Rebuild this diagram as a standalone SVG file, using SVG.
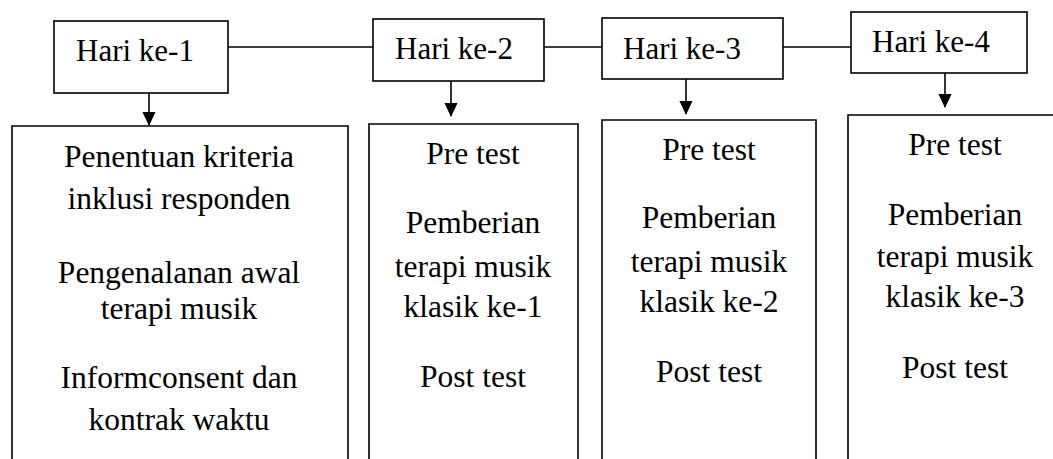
<svg xmlns="http://www.w3.org/2000/svg" width="1053" height="459" viewBox="0 0 1053 459">
<style>
.box{fill:#fff;stroke:#000;stroke-width:1.6}
.ln{stroke:#000;stroke-width:1.6;fill:none}
.h{font-family:"Liberation Serif","Times New Roman",serif;font-size:31px;fill:#000}
.b{font-family:"Liberation Serif","Times New Roman",serif;font-size:31.5px;fill:#000;text-anchor:middle}
</style>
<defs>
<marker id="ah" viewBox="0 0 14 15" refX="14" refY="7" markerWidth="15" markerHeight="14" markerUnits="userSpaceOnUse" orient="auto">
<path d="M0,0 L15,7 L0,14 Z" fill="#000"/>
</marker>
</defs>
<g id="connectors">
<line class="ln" x1="228" y1="47" x2="373" y2="47"/>
<line class="ln" x1="544" y1="47" x2="602" y2="47"/>
<line class="ln" x1="783" y1="47" x2="851" y2="47"/>
<line class="ln" x1="149" y1="93" x2="149" y2="125" marker-end="url(#ah)"/>
<line class="ln" x1="451" y1="81" x2="451" y2="116" marker-end="url(#ah)"/>
<line class="ln" x1="686" y1="79" x2="686" y2="114" marker-end="url(#ah)"/>
<line class="ln" x1="945" y1="73" x2="945" y2="107" marker-end="url(#ah)"/>
</g>
<g id="h1"><rect class="box" x="54" y="21" width="174" height="72"/><text class="h" x="76" y="61">Hari ke-1</text></g>
<g id="h2"><rect class="box" x="373" y="19" width="171" height="62"/><text class="h" x="395" y="59">Hari ke-2</text></g>
<g id="h3"><rect class="box" x="602" y="18" width="181" height="61"/><text class="h" x="623" y="59">Hari ke-3</text></g>
<g id="h4"><rect class="box" x="851" y="12" width="176" height="61"/><text class="h" x="872" y="52">Hari ke-4</text></g>
<g id="b1"><path class="ln" d="M12,470 V126 H348 V470"/>
<text class="b" x="179" y="167">Penentuan kriteria</text>
<text class="b" x="179" y="209">inklusi responden</text>
<text class="b" x="179" y="283">Pengenalanan awal</text>
<text class="b" x="179" y="319">terapi musik</text>
<text class="b" x="179" y="388">Informconsent dan</text>
<text class="b" x="179" y="430">kontrak waktu</text>
</g>
<g id="b2"><path class="ln" d="M369,470 V124 H578 V470"/>
<text class="b" x="473" y="164">Pre test</text>
<text class="b" x="473" y="233">Pemberian</text>
<text class="b" x="473" y="277">terapi musik</text>
<text class="b" x="473" y="317">klasik ke-1</text>
<text class="b" x="473" y="387">Post test</text>
</g>
<g id="b3"><path class="ln" d="M602,470 V120 H816 V470"/>
<text class="b" x="709" y="160">Pre test</text>
<text class="b" x="709" y="228">Pemberian</text>
<text class="b" x="709" y="272">terapi musik</text>
<text class="b" x="709" y="312">klasik ke-2</text>
<text class="b" x="709" y="382">Post test</text>
</g>
<g id="b4"><path class="ln" d="M848,470 V115 H1070"/>
<text class="b" x="955" y="155">Pre test</text>
<text class="b" x="955" y="225">Pemberian</text>
<text class="b" x="955" y="267">terapi musik</text>
<text class="b" x="955" y="307">klasik ke-3</text>
<text class="b" x="955" y="378">Post test</text>
</g>
</svg>
